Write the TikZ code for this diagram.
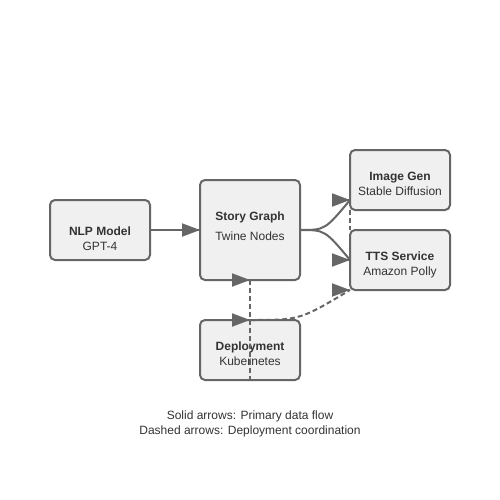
\documentclass[tikz,border=0pt]{standalone}
\usepackage{fontspec}
\setmainfont{Liberation Sans}
\usepackage{tikz}
\usetikzlibrary{arrows.meta}
\definecolor{edgegray}{HTML}{666666}
\definecolor{boxfill}{HTML}{F0F0F0}
\definecolor{textgray}{HTML}{333333}

\begin{document}
\begin{tikzpicture}[x=1pt, y=-1pt,
  >={Triangle[length=18pt,width=13pt]},
  box/.style={draw=edgegray, fill=boxfill, line width=2pt, rounded corners=5pt,
    minimum width=100pt, inner sep=0pt, outer sep=0pt},
  title/.style={anchor=base, text=textgray, font=\fontsize{12}{14}\selectfont\bfseries},
  sub/.style={anchor=base, text=textgray, font=\fontsize{12}{14}\selectfont},
  flow/.style={draw=edgegray, fill=edgegray, line width=2pt},
  coord/.style={draw=edgegray, line width=2pt, dash pattern=on 5pt off 3pt}]
\useasboundingbox (0,0) rectangle (500,500);
\fill[white] (0,0) rectangle (500,500);

% boxes
\node[box, minimum height=60pt]  (nlp)    at (100,230) {};
\node[box, minimum height=100pt] (story)  at (250,230) {};
\node[box, minimum height=60pt]  (imggen) at (400,180) {};
\node[box, minimum height=60pt]  (tts)    at (400,260) {};
\node[box, minimum height=60pt]  (deploy) at (250,350) {};

\node[title] (nlpT)    at (100,235) {NLP Model};
\node[sub]   (nlpS)    at (100,250) {GPT-4};
\node[title] (storyT)  at (250,220) {Story Graph};
\node[sub]   (storyS)  at (250,240) {Twine Nodes};
\node[title] (imggenT) at (400,180) {Image Gen};
\node[sub]   (imggenS) at (400,195) {Stable Diffusion};
\node[title] (ttsT)    at (400,260) {TTS Service};
\node[sub]   (ttsS)    at (400,275) {Amazon Polly};
\node[title] (deployT) at (250,350) {Deployment};
\node[sub]   (deployS) at (250,365) {Kubernetes};

\coordinate (imgIn) at ([yshift=10pt]imggen.south west);

% data flow
\draw[draw=edgegray, line width=2pt] (nlp.east) -- (story.west);
\draw[draw=edgegray, line width=2pt] (story.east) .. controls +(25,0) .. (imgIn);
\draw[draw=edgegray, line width=2pt] (story.east) .. controls +(25,0) .. (tts.west);

% deployment
\draw[coord] (story.south) -- (deploy.south);
\draw[coord] (deploy.north) .. controls +(50,0) .. (tts.south west);
\draw[coord] (imggen.south west) -- (tts.north west);

\foreach \c in {story.west, imgIn, tts.west, story.south, deploy.north, tts.south west}
  \draw[flow,->] ([xshift=-1pt]\c) -- (\c);

\node[sub] (legendA) at (250,419.5) {Solid arrows: Primary data flow};
\node[sub] (legendB) at (250,434.5) {Dashed arrows: Deployment coordination};
\end{tikzpicture}
\end{document}
